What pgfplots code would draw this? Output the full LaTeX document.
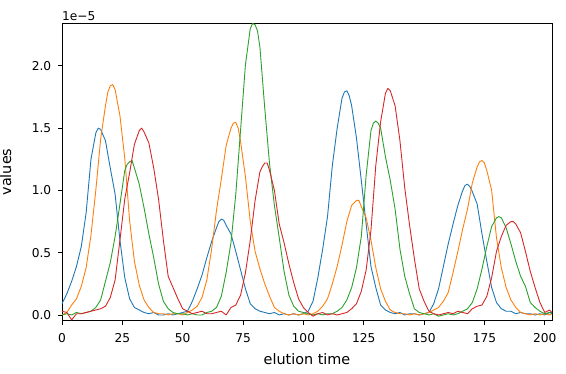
\documentclass[border=0pt]{standalone}
\usepackage{fontspec}
\setmainfont{DejaVu Sans}
\usepackage{pgfplots}
\pgfplotsset{compat=1.18}
\definecolor{c0}{HTML}{1F77B4}
\definecolor{c1}{HTML}{FF7F0E}
\definecolor{c2}{HTML}{2CA02C}
\definecolor{c3}{HTML}{D62728}
\begin{document}
\begin{tikzpicture}[x=1pt,y=1pt]
\path[use as bounding box] (-62,-53.3) rectangle (504,320.7);
\begin{axis}[
  name=ax, at={(0,0)}, anchor=south west,
  width=490pt, height=297.4pt, scale only axis,
  xmin=0, xmax=203, ymin=-0.046, ymax=2.342,
  xtick={0,25,...,200}, ytick={0,0.5,1.0,1.5,2.0},
  tick align=outside, tick pos=left, major tick length=4.2pt,
  axis line style={line width=0.8pt},
  every tick/.append style={black, line width=0.8pt},
  ticklabel style={font=\fontsize{12.2}{14}\selectfont, inner sep=0pt},
  yticklabel style={/pgf/number format/.cd, fixed, fixed zerofill, precision=1, assume math mode=true},
  xticklabel style={/pgf/number format/.cd, assume math mode=true},
  xticklabel shift=8.1pt, yticklabel shift=6.4pt,
  xlabel={elution time}, ylabel={values},
  label style={font=\fontsize{14.4}{17}\selectfont},
  xlabel style={at={(axis description cs:0.5,-0.147)}, anchor=base, inner sep=0pt},
  ylabel style={at={(axis description cs:-0.104,0.5)}, anchor=base, inner sep=0pt},
  every axis plot/.append style={line width=0.9pt, line join=round},
]
\addplot[c0] coordinates {(0,.09)(2,.17)(4,.27)(6,.39)(8,.55)(10,.82)(12,1.25)(14,1.46)(15,1.50)(16,1.49)(18,1.40)(20,1.18)(22,.97)(24,.60)(26,.30)(28,.13)(30,.06)(32,.04)(34,.02)(36,.01)(38,.02)(40,.00)(42,.00)(44,.01)(46,.00)(48,.01)(50,.02)(52,.03)(54,.11)(56,.21)(58,.32)(60,.46)(62,.59)(64,.70)(65,.75)(66,.77)(67,.76)(68,.72)(70,.65)(72,.51)(74,.36)(76,.21)(78,.09)(80,.05)(82,.03)(84,.02)(86,.01)(88,.02)(90,.00)(92,.01)(94,.00)(96,.01)(98,.00)(100,.01)(102,.03)(104,.11)(106,.30)(108,.53)(110,.79)(112,1.20)(114,1.50)(116,1.74)(117,1.79)(118,1.80)(119,1.76)(120,1.68)(122,1.42)(124,1.08)(126,.73)(128,.39)(130,.22)(132,.08)(134,.04)(136,.02)(138,.01)(140,.02)(142,.00)(144,.01)(146,.01)(148,.00)(150,.01)(152,.02)(154,.09)(156,.21)(158,.39)(160,.57)(162,.73)(164,.88)(166,1.00)(167,1.04)(168,1.05)(169,1.03)(170,.99)(172,.89)(174,.65)(176,.43)(178,.22)(180,.10)(182,.05)(184,.03)(186,.03)(188,.01)(190,.02)(192,.01)(194,.01)(196,.00)(198,.01)(200,.00)(202,.02)(203,.02)};
\addplot[c1] coordinates {(0,.00)(2,.02)(4,.08)(6,.13)(8,.23)(10,.38)(12,.64)(14,1.00)(16,1.41)(18,1.68)(19,1.79)(20,1.84)(21,1.85)(22,1.81)(24,1.60)(26,1.26)(28,.76)(30,.43)(32,.24)(34,.12)(36,.06)(38,.02)(40,.01)(42,.01)(44,.00)(46,.01)(48,.01)(50,.00)(52,.02)(54,.04)(56,.07)(58,.14)(60,.28)(62,.53)(64,.84)(66,1.09)(68,1.36)(70,1.50)(71,1.54)(72,1.547)(73,1.50)(74,1.39)(76,1.11)(78,.75)(80,.51)(82,.37)(84,.25)(86,.15)(88,.06)(90,.03)(92,.01)(94,.00)(96,.01)(98,.00)(100,.01)(102,.00)(104,.01)(106,.03)(108,.07)(110,.13)(112,.25)(114,.39)(116,.56)(118,.75)(120,.88)(122,.92)(123,.92)(124,.87)(126,.78)(128,.60)(130,.38)(132,.21)(134,.11)(136,.04)(138,.02)(140,.01)(142,.01)(144,.00)(146,.01)(148,.00)(150,.01)(152,.02)(154,.04)(156,.06)(158,.11)(160,.18)(162,.34)(164,.51)(166,.69)(168,.85)(170,1.06)(172,1.19)(173,1.23)(174,1.24)(175,1.22)(176,1.16)(178,1.00)(180,.62)(182,.38)(184,.22)(186,.12)(188,.06)(190,.02)(192,.01)(194,.00)(196,.01)(198,.00)(200,.01)(202,.00)(203,.01)};
\addplot[c2] coordinates {(0,.00)(2,.01)(4,.00)(6,.02)(8,.01)(10,.02)(12,.03)(14,.06)(16,.12)(18,.27)(20,.42)(22,.63)(24,.89)(26,1.16)(27,1.21)(28,1.23)(29,1.24)(30,1.18)(32,1.05)(34,.86)(36,.65)(38,.46)(40,.25)(42,.11)(44,.05)(46,.02)(48,.01)(50,.01)(52,.00)(54,.01)(56,.00)(58,.00)(60,.02)(62,.03)(64,.06)(66,.15)(68,.34)(70,.58)(72,.97)(74,1.49)(76,2.01)(78,2.30)(79,2.34)(80,2.33)(81,2.28)(82,2.15)(84,1.66)(86,1.21)(88,.88)(90,.62)(92,.35)(94,.16)(96,.07)(98,.03)(100,.02)(102,.01)(104,.00)(106,.01)(108,.00)(110,.01)(112,.01)(114,.03)(116,.06)(118,.12)(120,.22)(122,.38)(124,.63)(126,1.12)(128,1.48)(129,1.54)(130,1.557)(131,1.54)(132,1.50)(134,1.27)(136,1.08)(138,.85)(140,.53)(142,.31)(144,.17)(146,.05)(148,.02)(150,.01)(152,.00)(154,.01)(156,-.01)(158,.00)(160,.01)(162,.00)(164,.01)(166,.03)(168,.05)(170,.10)(172,.21)(174,.37)(176,.55)(178,.71)(180,.78)(181,.79)(182,.78)(184,.70)(186,.57)(188,.43)(190,.31)(192,.23)(194,.10)(196,.06)(198,.03)(200,.01)(202,.02)(203,.01)};
\addplot[c3] coordinates {(0,.03)(2,.02)(4,-.04)(6,.01)(8,.01)(10,.02)(12,.03)(14,.04)(16,.05)(18,.07)(20,.14)(22,.28)(24,.60)(26,.93)(28,1.14)(30,1.37)(32,1.48)(33,1.50)(34,1.47)(36,1.38)(38,1.18)(40,.93)(42,.60)(44,.31)(46,.22)(48,.13)(50,.05)(52,.03)(54,.01)(56,.02)(58,.03)(60,.01)(62,.01)(64,.02)(66,.03)(68,.00)(70,.06)(72,.08)(74,.16)(76,.34)(78,.60)(80,.92)(82,1.15)(83,1.19)(84,1.22)(85,1.22)(86,1.16)(88,1.00)(90,.73)(92,.58)(94,.41)(96,.26)(98,.13)(100,.06)(102,.02)(104,-.01)(106,.01)(108,.02)(110,.00)(112,.01)(114,.00)(116,.01)(118,.02)(120,.05)(122,.09)(124,.19)(126,.36)(128,.68)(130,1.20)(132,1.55)(134,1.78)(135,1.82)(136,1.80)(138,1.68)(140,1.40)(142,1.02)(144,.72)(146,.45)(148,.21)(150,.11)(152,.03)(154,.01)(156,.00)(158,.01)(160,.02)(162,.01)(164,.03)(166,.02)(168,.01)(170,.05)(172,.07)(174,.08)(176,.15)(178,.30)(180,.51)(182,.63)(184,.72)(186,.75)(187,.75)(188,.73)(190,.66)(192,.51)(194,.35)(196,.22)(198,.10)(200,.02)(202,.04)(203,.02)};
\end{axis}
\node[anchor=base west, inner sep=0pt, yshift=2.6pt, font=\fontsize{12.2}{14}\selectfont] at (ax.north west) {1e−5};
\end{tikzpicture}
\end{document}
